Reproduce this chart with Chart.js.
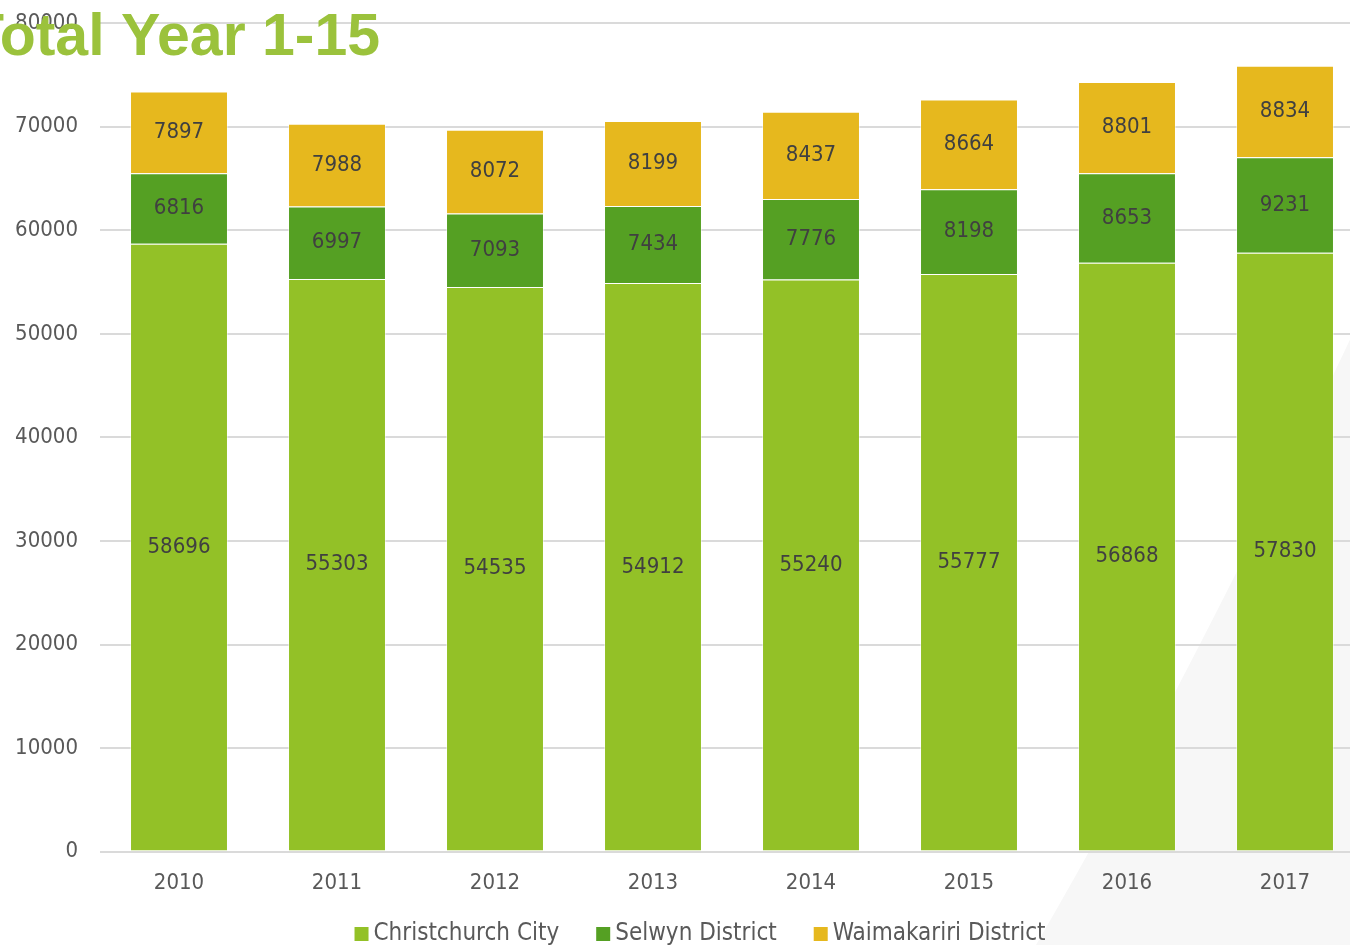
<!DOCTYPE html>
<html>
<head>
<meta charset="utf-8">
<script src="https://cdn.jsdelivr.net/npm/chart.js@4"></script>
<style>
  html, body { margin: 0; padding: 0; background: #fff; overflow: hidden; }
  #wrap { width: 1364px; height: 957px; margin-top: -12px; position: relative; }
</style>
</head>
<body>
<div id="wrap"><canvas id="chart"></canvas></div>
<script>
const years = ['2010', '2011', '2012', '2013', '2014', '2015', '2016', '2017'];
const christchurch = [58696, 55303, 54535, 54912, 55240, 55777, 56868, 57830];
const selwyn = [6816, 6997, 7093, 7434, 7776, 8198, 8653, 9231];
const waimakariri = [7897, 7988, 8072, 8199, 8437, 8664, 8801, 8834];

const FONT = '"DejaVu Sans Condensed", "DejaVu Sans", sans-serif';
const SHIFT = 12; // canvas is moved up by this much

const colors = {
  christchurch: '#93C127',
  selwyn: '#55A023',
  waimakariri: '#E6B81E'
};

// faint slide background shape in the bottom right corner
const backdrop = {
  id: 'backdrop',
  beforeDraw(chart) {
    const ctx = chart.ctx;
    ctx.save();
    ctx.translate(0, SHIFT);
    ctx.fillStyle = '#F7F7F7';
    ctx.beginPath();
    ctx.moveTo(1036, 945);
    ctx.quadraticCurveTo(1190, 680, 1364, 310);
    ctx.lineTo(1364, 945);
    ctx.closePath();
    ctx.fill();
    ctx.restore();
  }
};

// value labels centred in each segment
const segmentLabels = {
  id: 'segmentLabels',
  afterDatasetsDraw(chart) {
    const ctx = chart.ctx;
    ctx.save();
    ctx.font = '22px ' + FONT;
    ctx.fillStyle = '#404040';
    ctx.textAlign = 'center';
    ctx.textBaseline = 'middle';
    chart.data.datasets.forEach((ds, i) => {
      chart.getDatasetMeta(i).data.forEach((bar, j) => {
        const p = bar.getProps(['x', 'y', 'base'], true);
        ctx.fillText(String(ds.data[j]), p.x, (p.y + p.base) / 2);
      });
    });
    ctx.restore();
  }
};

// title and legend
const decorations = {
  id: 'decorations',
  afterDraw(chart) {
    const ctx = chart.ctx;
    ctx.save();
    ctx.translate(0, SHIFT);

    ctx.font = '24px ' + FONT;
    ctx.textBaseline = 'middle';
    const items = chart.data.datasets.map(ds => ({
      label: ds.label, color: ds.backgroundColor, w: ctx.measureText(ds.label).width
    }));
    const box = 14, gapText = 5, gapItem = 37;
    const total = items.reduce((s, it) => s + box + gapText + it.w, 0) + gapItem * (items.length - 1);
    let x = 700 - total / 2;
    const yMid = 934;
    items.forEach(it => {
      ctx.fillStyle = it.color;
      ctx.fillRect(x, yMid - box / 2, box, box);
      ctx.fillStyle = '#595959';
      ctx.textAlign = 'left';
      ctx.fillText(it.label, x + box + gapText, yMid);
      x += box + gapText + it.w + gapItem;
    });

    ctx.font = 'bold 59px "Liberation Sans", Arial, sans-serif';
    ctx.fillStyle = '#9BC23C';
    ctx.textAlign = 'left';
    ctx.textBaseline = 'alphabetic';
    ctx.fillText('Total Year 1-15', -32, 55);

    ctx.restore();
  }
};

new Chart(document.getElementById('chart'), {
  type: 'bar',
  data: {
    labels: years,
    datasets: [
      { label: 'Christchurch City', data: christchurch, backgroundColor: colors.christchurch },
      { label: 'Selwyn District', data: selwyn, backgroundColor: colors.selwyn },
      { label: 'Waimakariri District', data: waimakariri, backgroundColor: colors.waimakariri }
    ].map(ds => Object.assign(ds, {
      borderColor: 'rgba(255,255,255,0.45)',
      borderWidth: 1,
      categoryPercentage: 1,
      barPercentage: 0.62
    }))
  },
  options: {
    responsive: true,
    maintainAspectRatio: false,
    animation: false,
    layout: { padding: { top: 0, bottom: 39, left: 0, right: 0 } },
    plugins: {
      legend: { display: false },
      tooltip: { enabled: false }
    },
    scales: {
      x: {
        stacked: true,
        grid: { display: false },
        border: { display: false },
        ticks: { color: '#595959', font: { family: FONT, size: 22 }, padding: 10 }
      },
      y: {
        stacked: true,
        min: 0,
        max: 80000,
        afterFit: (scale) => { scale.width = 100; },
        border: { display: false },
        grid: { color: '#DADADA', lineWidth: 2, drawTicks: false },
        ticks: {
          stepSize: 10000,
          color: '#595959',
          font: { family: FONT, size: 22 },
          padding: 22,
          callback: (v) => String(v)
        }
      }
    }
  },
  plugins: [backdrop, segmentLabels, decorations]
});
</script>
</body>
</html>
